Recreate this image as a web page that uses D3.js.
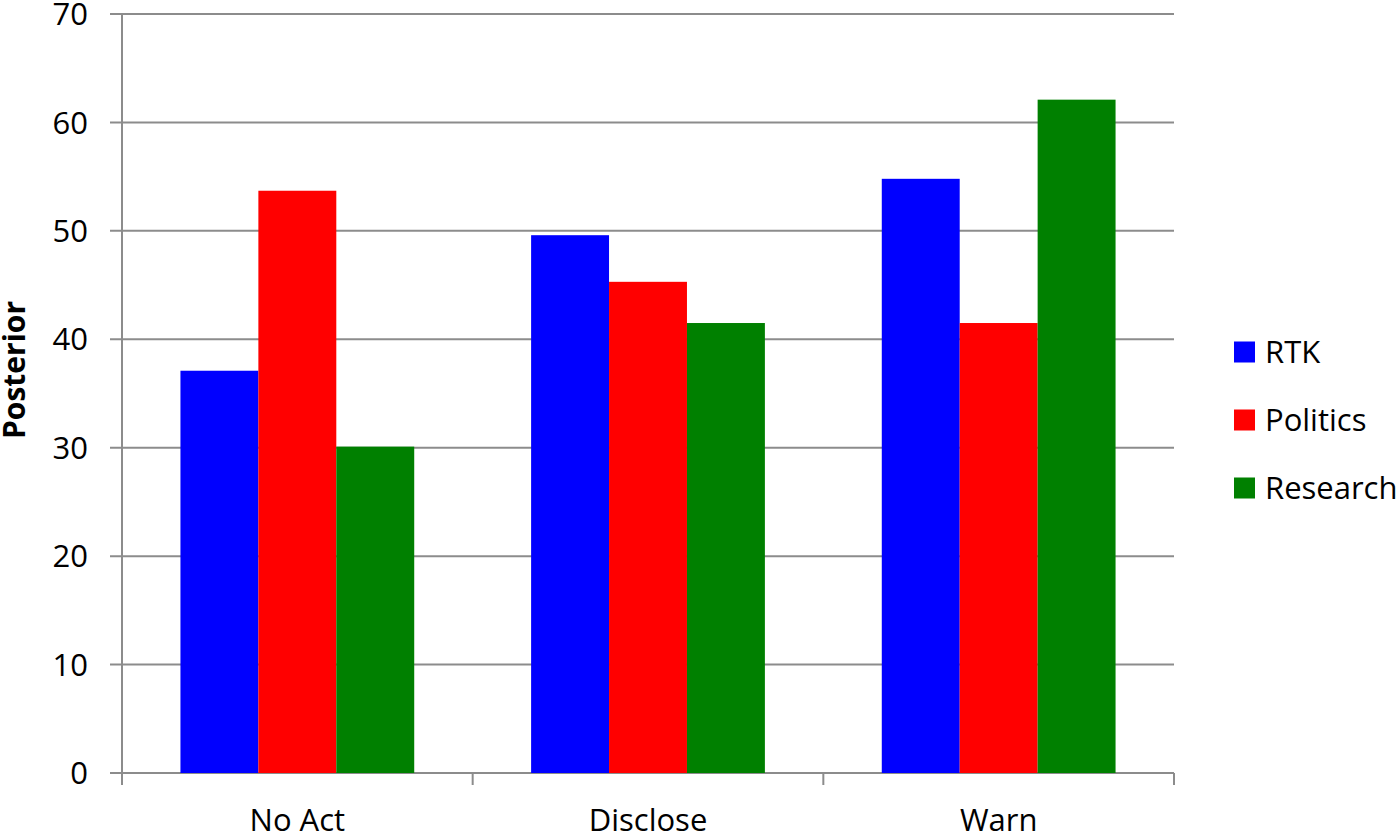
<!DOCTYPE html>
<html><head><meta charset="utf-8">
<script src="https://cdn.jsdelivr.net/npm/d3@7"></script>
<style>body{margin:0;background:#fff}svg{display:block}</style>
</head><body>
<script>
const categories = ["No Act", "Disclose", "Warn"];
const seriesNames = ["RTK", "Politics", "Research"];
const seriesColors = ["#0000FF", "#FF0000", "#008000"];
const rtk = [37.1, 49.6, 54.8];
const politics = [53.7, 45.3, 41.5];
const research = [30.1, 41.5, 62.1];
const yTicks = [0, 10, 20, 30, 40, 50, 60, 70];
const seriesValues = [rtk, politics, research];

(function () {
const W = 1400, H = 834;
const mLeft = 122, mRight = 1174, mTop = 14, mBottom = 773;
const font = "'Open Sans', sans-serif";

const svg = d3.select("body").append("svg").attr("width", W).attr("height", H);

const x0 = d3.scaleBand().domain(categories).range([mLeft, mRight]).paddingInner(0).paddingOuter(0);
const x1 = d3.scaleBand().domain(seriesNames).range([0, x0.bandwidth()]).paddingInner(0).paddingOuter(0.75);
const y = d3.scaleLinear().domain([0, 70]).range([mBottom, mTop]);

// gridlines
svg.append("g").selectAll("line").data(yTicks).join("line")
  .attr("x1", mLeft - 12).attr("x2", mRight)
  .attr("y1", d => y(d)).attr("y2", d => y(d))
  .attr("stroke", "#8c8c8c").attr("stroke-width", 2);

// bars
const g = svg.append("g");
categories.forEach((c, ci) => {
  seriesNames.forEach((s, si) => {
    g.append("rect")
      .attr("x", x0(c) + x1(s))
      .attr("width", x1.bandwidth())
      .attr("y", y(seriesValues[si][ci]))
      .attr("height", y(0) - y(seriesValues[si][ci]))
      .attr("fill", seriesColors[si]);
  });
});

// y axis line
svg.append("line").attr("x1", mLeft).attr("x2", mLeft).attr("y1", mTop).attr("y2", mBottom)
  .attr("stroke", "#8c8c8c").attr("stroke-width", 2);
// x axis ticks
const xt = [mLeft, ...categories.map(c => x0(c) + x0.bandwidth())];
svg.append("g").selectAll("line").data(xt).join("line")
  .attr("x1", d => d).attr("x2", d => d).attr("y1", mBottom).attr("y2", mBottom + 12)
  .attr("stroke", "#8c8c8c").attr("stroke-width", 2);

// y tick labels
svg.append("g").selectAll("text").data(yTicks).join("text")
  .attr("x", 88).attr("y", d => y(d)).attr("dy", "0.36em")
  .attr("text-anchor", "end").attr("font-family", font).attr("font-size", 31)
  .attr("fill", "#000").text(d => d);

// x labels
svg.append("g").selectAll("text").data(categories).join("text")
  .attr("x", d => x0(d) + x0.bandwidth() / 2).attr("y", 831)
  .attr("text-anchor", "middle").attr("font-family", font).attr("font-size", 31)
  .attr("fill", "#000").text(d => d);

// y title
svg.append("text").attr("transform", "translate(25,370) rotate(-90)")
  .attr("text-anchor", "middle").attr("font-family", font).attr("font-weight", "bold")
  .attr("font-size", 30).attr("fill", "#000").text("Posterior");

// legend
const lg = svg.append("g");
seriesNames.forEach((s, i) => {
  const cy = 352 + i * 68;
  lg.append("rect").attr("x", 1234).attr("y", cy - 10.5).attr("width", 21).attr("height", 21)
    .attr("fill", seriesColors[i]);
  lg.append("text").attr("x", 1265).attr("y", cy).attr("dy", "0.36em")
    .attr("font-family", font).attr("font-size", 31).attr("fill", "#000").text(s);
});
})();
</script>
</body></html>
